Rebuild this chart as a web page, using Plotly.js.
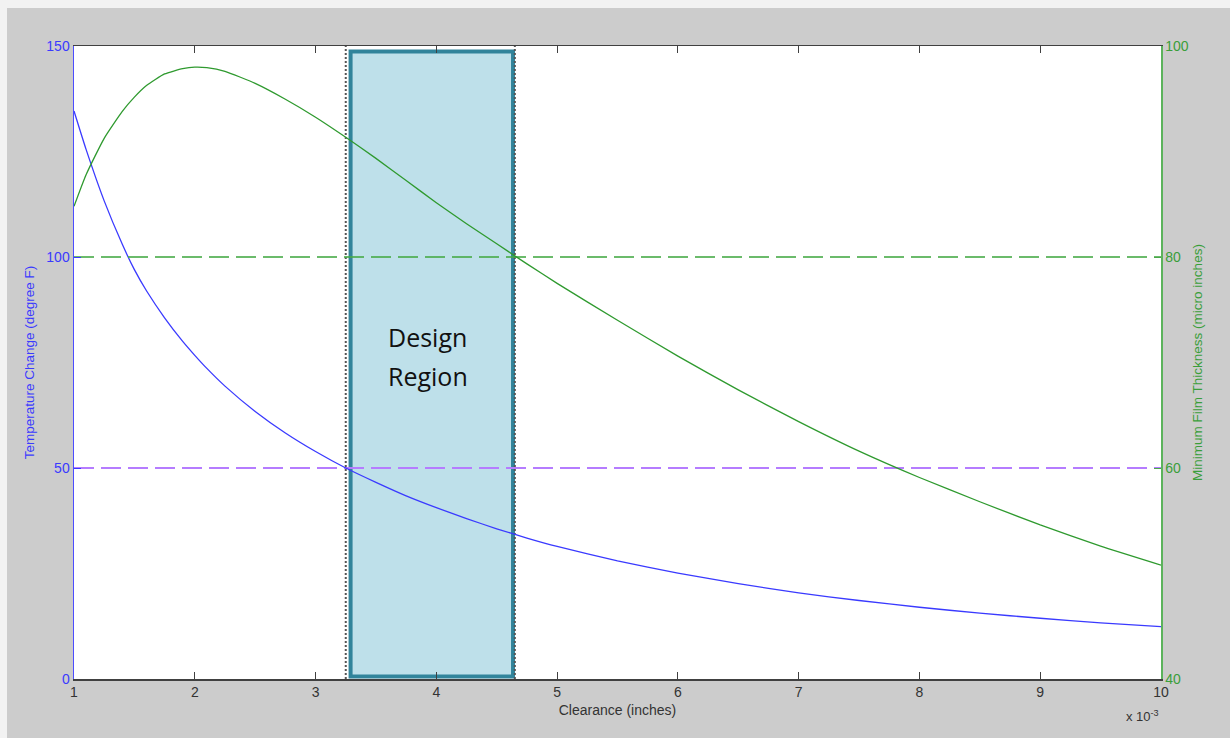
<!DOCTYPE html>
<html><head><meta charset="utf-8">
<script src="https://cdn.plot.ly/plotly-3.0.1.min.js"></script>
<style>
html,body{margin:0;padding:0;background:#f2f2f2;width:1230px;height:738px;overflow:hidden;}
#chart{position:absolute;left:7px;top:8px;width:1223px;height:730px;}
</style></head><body><div id="chart"></div>
<script>
// Clearance in units of 1e-3 inches
const clearance = [1.0,1.1,1.25,1.4,1.5,1.6,1.75,1.9,2.0,2.1,2.25,2.5,2.75,3.0,3.25,3.5,3.75,4.0,4.25,4.5,4.75,5.0,5.5,6.0,6.5,7.0,7.5,8.0,8.5,9.0,9.5,10.0];
// Temperature change (degree F) - left axis
const tempChange = [134.6,125.5,113.3,103.0,97.0,92.0,85.6,80.0,76.7,73.6,69.4,63.4,58.3,53.9,50.0,46.6,43.4,40.6,38.0,35.6,33.4,31.4,28.0,25.1,22.6,20.4,18.6,17.0,15.6,14.4,13.3,12.4];
// Minimum film thickness (micro inches) - right axis
const filmThickness = [84.8,87.8,91.25,93.8,95.15,96.25,97.35,97.85,98.0,97.95,97.6,96.45,94.95,93.25,91.35,89.35,87.25,85.15,83.15,81.25,79.35,77.5,74.0,70.6,67.4,64.4,61.6,59.1,56.8,54.6,52.6,50.8];

const tempLimit = [50, 50];      // degree F
const filmLimit = [80, 80];      // micro inches
const limitX = [1, 10];
const regionBounds = [3.25, 4.65];
const boxX = [3.29, 4.635];
const boxY = [0.6, 148.7];
const verticalSpan = [0, 150];
const xTicks = [1,2,3,4,5,6,7,8,9,10];
const leftTicks = [0,50,100,150];
const rightTicks = [40,60,80,100];
const regionLabel = ['Design', 'Region'];

const tickFont = 'Liberation Sans, Arial, sans-serif';
const blue = '#3a3aff';
const green = '#2f9a2f';

const traces = [
  {x: limitX, y: filmLimit, yaxis: 'y2', mode: 'lines', line: {color: 'rgba(70,170,70,0.8)', width: 2.2, dash: '20px,7px'}, hoverinfo: 'skip'},
  {x: limitX, y: tempLimit, yaxis: 'y', mode: 'lines', line: {color: '#b57cff', width: 2.2, dash: '20px,7px'}, hoverinfo: 'skip'},
  {x: [regionBounds[0], regionBounds[0]], y: verticalSpan, mode: 'lines', line: {color: '#555555', width: 2, dash: '2px,2px'}, hoverinfo: 'skip'},
  {x: [regionBounds[1], regionBounds[1]], y: verticalSpan, mode: 'lines', line: {color: '#555555', width: 2, dash: '2px,2px'}, hoverinfo: 'skip'},
  {x: clearance, y: tempChange, yaxis: 'y', mode: 'lines', line: {color: blue, width: 1.3, shape: 'spline', smoothing: 0.5}},
  {x: clearance, y: filmThickness, yaxis: 'y2', mode: 'lines', line: {color: green, width: 1.3, shape: 'spline', smoothing: 0.5}}
];

const layout = {
  width: 1223, height: 730,
  paper_bgcolor: '#cccccc', plot_bgcolor: '#ffffff',
  margin: {l: 67, r: 69, t: 38, b: 59},
  showlegend: false,
  xaxis: {
    range: [1, 10], tickvals: xTicks, ticktext: xTicks.map(String),
    ticks: 'inside', ticklen: 7, tickcolor: '#404040', tickwidth: 1.2,
    showline: true, linecolor: '#404040', linewidth: 1.5, mirror: 'ticks',
    showgrid: false, zeroline: false,
    tickfont: {family: tickFont, size: 14, color: '#333333'},
    title: {text: 'Clearance (inches)', font: {family: tickFont, size: 14, color: '#333333'}, standoff: 6}
  },
  yaxis: {
    range: [0, 150], tickvals: leftTicks, ticktext: leftTicks.map(String),
    ticks: 'inside', ticklen: 7, tickcolor: blue,
    showline: true, linecolor: '#4d4dff', linewidth: 1.5,
    showgrid: false, zeroline: false,
    tickfont: {family: tickFont, size: 14, color: blue},
    title: {text: 'Temperature Change (degree F)', font: {family: tickFont, size: 13.5, color: blue}, standoff: 8}
  },
  yaxis2: {
    range: [40, 100], tickvals: rightTicks, ticktext: rightTicks.map(String),
    overlaying: 'y', side: 'right',
    ticks: 'inside', ticklen: 7, tickcolor: '#4aa84a',
    showline: true, linecolor: '#5cb35c', linewidth: 1.5,
    showgrid: false, zeroline: false,
    tickfont: {family: tickFont, size: 14, color: '#3a9e3a'},
    title: {text: 'Minimum Film Thickness (micro inches)', font: {family: tickFont, size: 13.5, color: '#3a9e3a'}, standoff: 4}
  },
  shapes: [
    {type: 'rect', xref: 'x', yref: 'y', x0: boxX[0], x1: boxX[1], y0: boxY[0], y1: boxY[1],
     fillcolor: '#bee0ea', line: {color: '#31849b', width: 4}, layer: 'below'}
  ],
  annotations: [
    {xref: 'x', yref: 'paper', x: 3.93, y: 0.541, text: regionLabel[0], showarrow: false,
     xanchor: 'center', yanchor: 'middle', font: {family: 'Open Sans, sans-serif', size: 25, color: '#111111'}},
    {xref: 'x', yref: 'paper', x: 3.93, y: 0.479, text: regionLabel[1], showarrow: false,
     xanchor: 'center', yanchor: 'middle', font: {family: 'Open Sans, sans-serif', size: 25, color: '#111111'}},
    {xref: 'paper', yref: 'paper', x: 0.9834, y: -0.0585, text: 'x 10<sup>-3</sup>', showarrow: false,
     xanchor: 'center', yanchor: 'middle', font: {family: tickFont, size: 13, color: '#333333'}}
  ]
};

Plotly.newPlot('chart', traces, layout, {displayModeBar: false, staticPlot: true});
</script></body></html>
